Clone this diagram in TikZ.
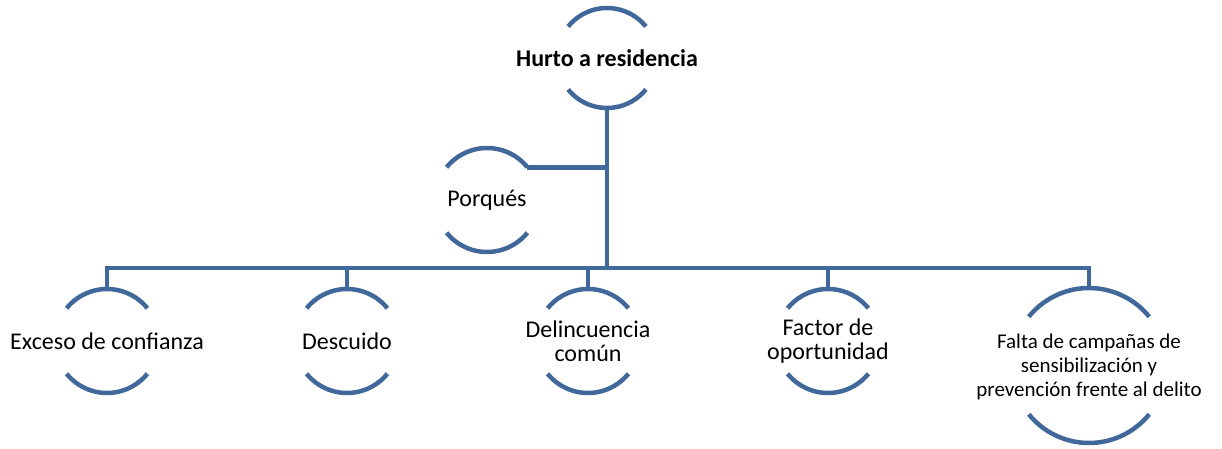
\documentclass[tikz,border=0pt]{standalone}
\usepackage{fontspec}
\setmainfont{Carlito}
\definecolor{ln}{HTML}{41689A}
\tikzset{
  ring/.style={circle,minimum size=#1,inner sep=0pt,outer sep=0pt},
  arcln/.style={draw=ln,line width=4.5pt},
  lbl/.style={align=center,inner sep=0pt,font=\fontsize{24}{24}\selectfont},
  lblsmall/.style={align=center,inner sep=0pt,font=\fontsize{21}{24}\selectfont},
}
\newcommand{\ringarcs}[2]{%
  \draw[arcln] (#1.39) arc[start angle=39,end angle=141,radius=#2];
  \draw[arcln] (#1.219) arc[start angle=219,end angle=321,radius=#2];
}
\begin{document}
\begin{tikzpicture}[x=1pt,y=-1pt]
\useasboundingbox (0,0) rectangle (1222,449);
% rings
\node[ring=100pt] (top) at (607,58) {};
\node[ring=104pt] (por) at (487,200) {};
\node[ring=104pt] (c1) at (107,341) {};
\node[ring=104pt] (c2) at (347,341) {};
\node[ring=104pt] (c3) at (588,341) {};
\node[ring=104pt] (c4) at (828,341) {};
\node[ring=155pt] (c5) at (1089,365.5) {};
\ringarcs{top}{50pt}
\ringarcs{por}{52pt}
\ringarcs{c1}{52pt}
\ringarcs{c2}{52pt}
\ringarcs{c3}{52pt}
\ringarcs{c4}{52pt}
\ringarcs{c5}{77.5pt}
% labels
\node[lbl,font=\fontsize{24}{24}\selectfont\bfseries] (topt) at (top) {Hurto a residencia};
\node[lbl] (port) at (por) {Porqués};
\node[lbl] (c1t) at (c1) {Exceso de confianza};
\node[lbl] (c2t) at (c2) {Descuido};
\node[lbl] (c3t) at (c3) {Delincuencia\\común};
\node[lbl] (c4t) at (c4) {Factor de\\oportunidad};
\node[lblsmall] (c5t) at (1089,367) {Falta de campañas de\\sensibilización y\\prevención frente al delito};
% connectors
\coordinate (busL) at (107,268);
\coordinate (busR) at (1089,268);
\draw[arcln,line cap=rect] (busL) -- (busR);
\draw[arcln] (top.south) -- (top.south |- busL);
\draw[arcln] (por.39) -- (por.39 -| top.south);
\draw[arcln] (c1.north) -- (c1.north |- busL);
\draw[arcln] (c2.north) -- (c2.north |- busL);
\draw[arcln] (c3.north) -- (c3.north |- busL);
\draw[arcln] (c4.north) -- (c4.north |- busL);
\draw[arcln] (c5.north) -- (c5.north |- busL);
\end{tikzpicture}
\end{document}
